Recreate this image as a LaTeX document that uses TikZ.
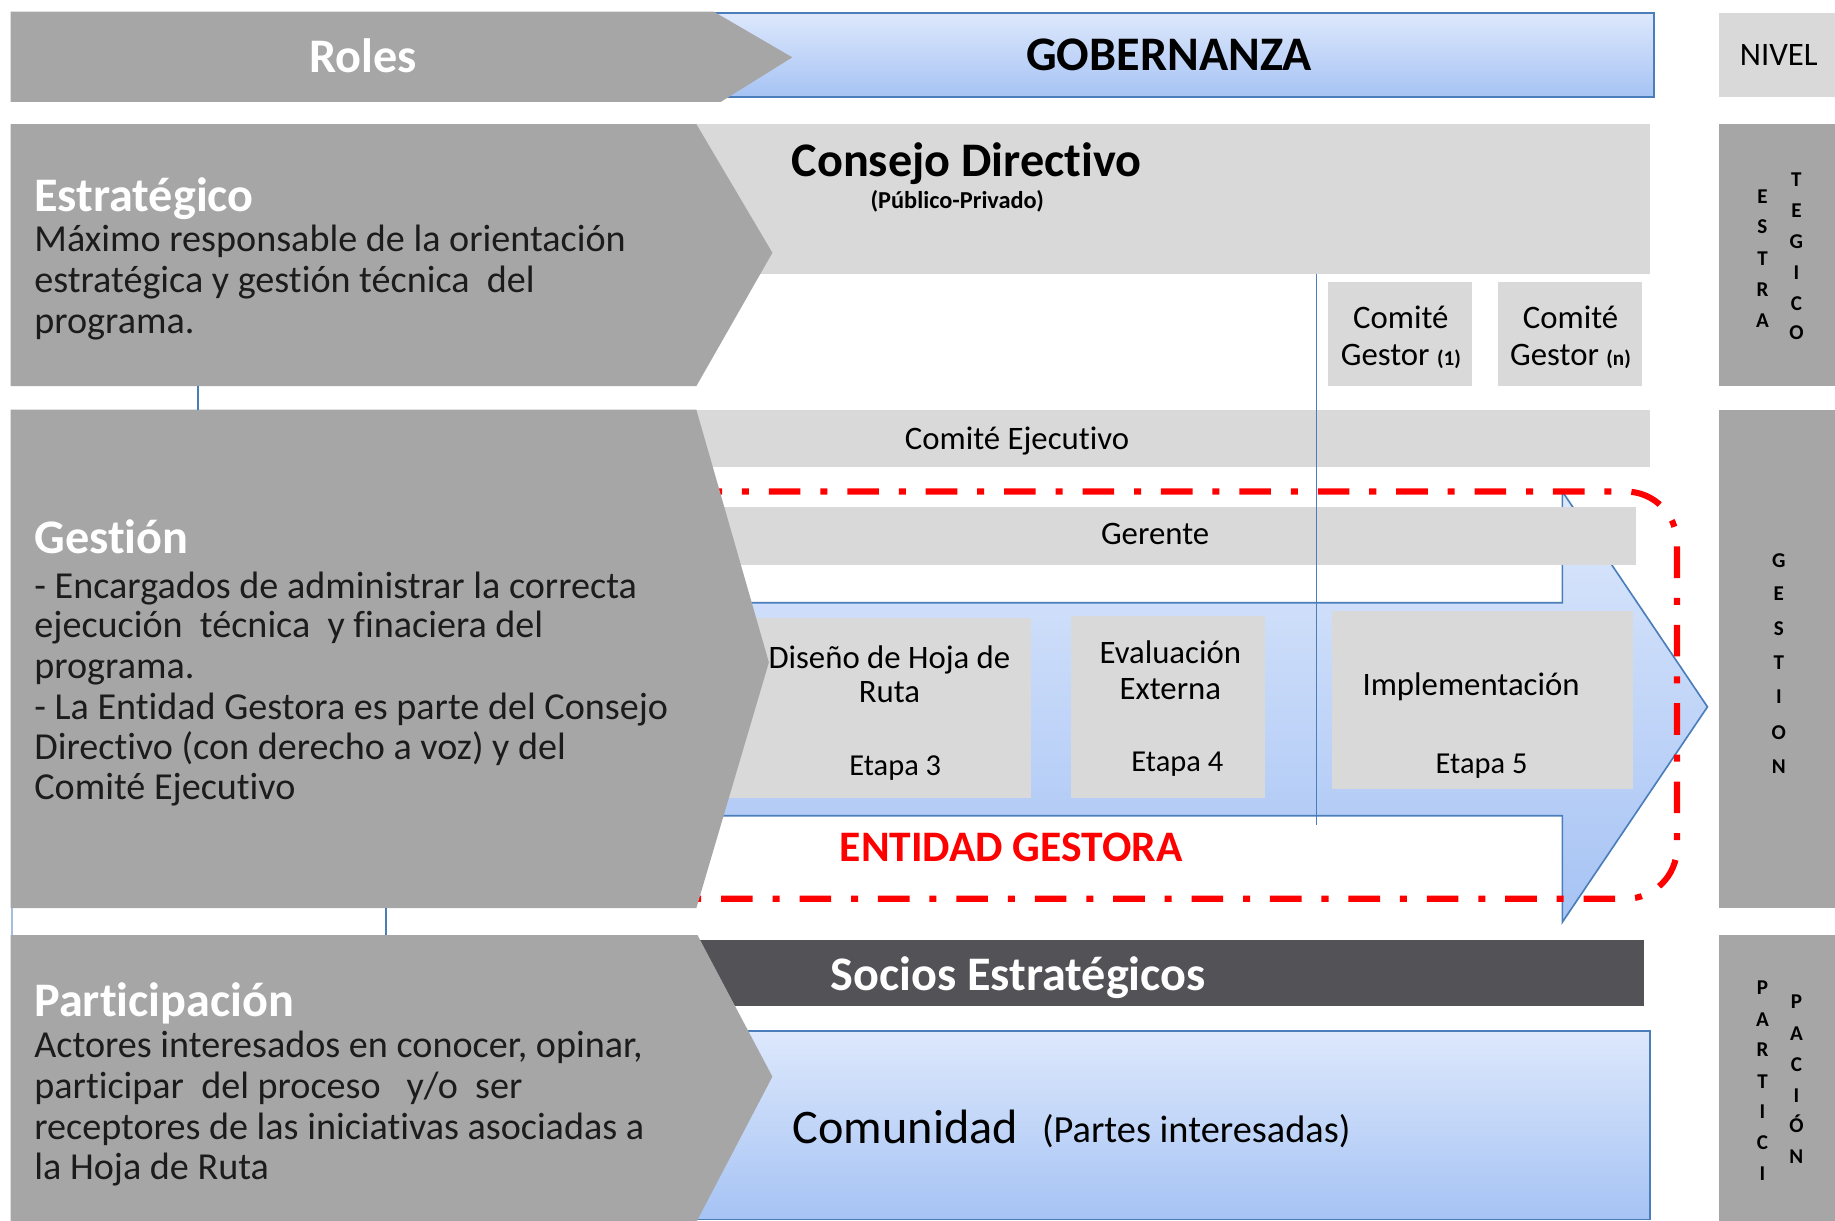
\documentclass[tikz,border=0pt]{standalone}
\usepackage{fontspec}
\setmainfont{Carlito}[Ligatures=NoCommon]
\definecolor{dgray}{HTML}{A6A6A6}
\definecolor{lgray}{HTML}{D9D9D9}
\definecolor{sgray}{HTML}{525257}
\definecolor{blA}{HTML}{DDE8FC}
\definecolor{blB}{HTML}{A6C3F4}
\definecolor{bline}{HTML}{4A7EBB}
\definecolor{txtc}{HTML}{1C1C1C}
\definecolor{redd}{HTML}{FF0000}
\newcommand\FBig{\fontsize{20.6}{24}\selectfont\bfseries}
\newcommand\FBody{\fontsize{16.3}{17.5}\selectfont}
\newcommand\FBox{\fontsize{14}{16}\selectfont}
\newcommand\FEtapa{\fontsize{13}{15}\selectfont}
\newcommand\FVert{\fontsize{9}{10}\selectfont\bfseries}
\newcommand\FTiny{\fontsize{9}{10}\selectfont\bfseries}
\tikzset{
  ctxt/.style={inner sep=0pt, anchor=base},
  ltxt/.style={inner sep=0pt, anchor=base west},
  bodytxt/.style={ltxt, text=txtc, font=\FBody},
  boxtxt/.style={ctxt, text=black, font=\FBox},
  etxt/.style={ctxt, text=black, font=\FEtapa},
  vtxt/.style={ctxt, text=black, font=\FVert},
  bluebox/.style={draw=bline, line width=0.8pt, top color=blA, bottom color=blB},
  conn/.style={draw=bline, line width=0.7pt},
  redframe/.style={draw=redd, line width=2.6pt, dash pattern=on 13.5pt off 8.5pt on 3pt off 8.5pt, rounded corners=22pt}
}
\begin{document}
\begin{tikzpicture}[x=0.5pt,y=-0.5pt]
\useasboundingbox (0,0) rectangle (1568,1043);
\fill[white] (0,0) rectangle (1568,1043);

% ---------- bands behind the arrows ----------
\fill[lgray] (590,106) rectangle (1410,234);
\fill[lgray] (1135,241) rectangle (1258,330);
\fill[lgray] (1280,241) rectangle (1403,330);
\fill[lgray] (590,350) rectangle (1410,399);

% big blue process arrow
\path[bluebox, line width=0.7pt] (600,515) -- (1335,515) -- (1335,420) -- (1459,604) -- (1335,788) -- (1335,697) -- (600,697) -- cycle;
\fill[lgray] (600,433) rectangle (1398,483);
\fill[lgray] (615,528) rectangle (881,682);
\fill[lgray] (915,526) rectangle (1081,682);
\fill[lgray] (1138,522) rectangle (1395,674);

% red dash-dot frame
\path[redframe] (590,420) -- (1433,420) -- (1433,768) -- (590,768);

% vertical connector
\coordinate (vTop) at (1125,234);
\coordinate (vBot) at (1125,705);
\path[conn] (vTop) -- (vBot);

\fill[sgray] (590,803) rectangle (1405,860);
\path[bluebox] (590,881) rectangle (1410,1042);

\path[bluebox] (600,11) rectangle (1413,83);
\fill[lgray] (1469,11) rectangle (1575,83);
\fill[dgray] (1469,106) rectangle (1575,330);
\fill[dgray] (1469,350) rectangle (1575,776);
\fill[dgray] (1469,799) rectangle (1575,1050);

% ---------- gray role arrows ----------
\fill[dgray] (9,10) -- (610,10) -- (677,49) -- (616,87) -- (9,87) -- cycle;
\fill[dgray] (9,106) -- (595,106) -- (660,216) -- (595,330) -- (9,330) -- cycle;
\fill[dgray] (9,350) -- (595,350) -- (657,566) -- (595,776) -- (9,776) -- cycle;
\fill[dgray] (9,799) -- (596,799) -- (660,920) -- (592,1050) -- (9,1050) -- cycle;

% small connectors between rows
\coordinate (c1a) at (169,330); \coordinate (c1b) at (169,350);
\coordinate (c2a) at (330,776); \coordinate (c2b) at (330,799);
\coordinate (c3a) at (10,776);  \coordinate (c3b) at (10,799);
\path[conn] (c1a) -- (c1b);
\path[conn] (c2a) -- (c2b);
\path[conn, draw=bline!50] (c3a) -- (c3b);

% ---------- header texts ----------
\node[ctxt, white, font=\FBig] (roles) at (310,62) {Roles};
\node[ctxt, black, font=\FBig] (gob) at (999,60) {GOBERNANZA};
\node[ctxt, black, font=\FBox] (nivel) at (1520,56) {NIVEL};

% ---------- left texts ----------
\node[ltxt, white, font=\FBig] (tEst) at (29,181) {Estratégico};
\node[bodytxt] (e1) at (29,215) {Máximo responsable de la orientación};
\node[bodytxt] (e2) at (29,250) {estratégica y gestión técnica\ \ del};
\node[bodytxt] (e3) at (29,285) {programa.};

\node[ltxt, white, font=\FBig] (tGes) at (29,473) {Gestión};
\node[bodytxt] (g1) at (29,511) {- Encargados de administrar la correcta};
\node[bodytxt] (g2) at (29,545) {ejecución\ \ técnica\ \ y finaciera del};
\node[bodytxt] (g3) at (29,580) {programa.};
\node[bodytxt] (g4) at (29,615) {- La Entidad Gestora es parte del Consejo};
\node[bodytxt] (g5) at (29,649) {Directivo (con derecho a voz) y del};
\node[bodytxt] (g6) at (29,683) {Comité Ejecutivo};

\node[ltxt, white, font=\FBig] (tPar) at (29,869) {Participación};
\node[bodytxt] (p1) at (29,904) {Actores interesados en conocer, opinar,};
\node[bodytxt] (p2) at (29,939) {participar\ \ del proceso\ \ \ y/o\ \ ser};
\node[bodytxt] (p3) at (29,974) {receptores de las iniciativas asociadas a};
\node[bodytxt] (p4) at (29,1008) {la Hoja de Ruta};

% ---------- governance texts ----------
\node[ltxt, black, font=\FBig] (cd) at (676,151) {Consejo Directivo};
\node[ctxt, black, font=\fontsize{10.4}{12}\selectfont\bfseries] (pp) at (818,178) {(Público-Privado)};
\node[boxtxt] (cg1a) at (1197,281) {Comité};
\node[boxtxt] (cg1b) at (1197,312) {Gestor {\FTiny(1)}};
\node[boxtxt] (cgna) at (1342,281) {Comité};
\node[boxtxt] (cgnb) at (1342,312) {Gestor {\FTiny(n)}};
\node[boxtxt] (ce) at (869,384) {Comité Ejecutivo};
\node[boxtxt] (ger) at (987,465) {Gerente};
\node[boxtxt] (d1) at (760,571) {Diseño de Hoja de};
\node[boxtxt] (d2) at (760,600) {Ruta};
\node[etxt] (d3) at (765,663) {Etapa 3};
\node[boxtxt] (v1) at (1000,567) {Evaluación};
\node[boxtxt] (v2) at (1000,598) {Externa};
\node[etxt] (v3) at (1006,659) {Etapa 4};
\node[boxtxt] (i1) at (1257,594) {Implementación};
\node[etxt] (i3) at (1266,661) {Etapa 5};
\node[ctxt, text=redd, font=\fontsize{18.6}{21}\selectfont\bfseries] (ent) at (864,736) {ENTIDAD GESTORA};
\node[ctxt, white, font=\FBig] (soc) at (870,846) {Socios Estratégicos};
\node[ltxt, black, font=\fontsize{20.6}{24}\selectfont] (com) at (677,977) {Comunidad};
\node[ltxt, black, font=\fontsize{16.4}{18}\selectfont] (pint) at (890,976) {(Partes interesadas)};

% ---------- vertical level letters ----------
\foreach \ch/\yy [count=\i] in {E/167.5,S/193.5,T/220.5,R/247,A/273.5}
  \node[vtxt] (ea\i) at (1506,\yy+6) {\ch};
\foreach \ch/\yy [count=\i] in {T/153,E/179.5,G/206.5,I/233,C/259.5,O/284.5}
  \node[vtxt] (eb\i) at (1535,\yy+6) {\ch};
\foreach \ch/\yy [count=\i] in {G/479,E/507,S/537,T/566,I/595,O/626,N/655}
  \node[vtxt] (gs\i) at (1520,\yy+6) {\ch};
\foreach \ch/\yy [count=\i] in {P/843.5,A/871,R/897,T/924,I/950,C/976.5,I/1003}
  \node[vtxt] (pa\i) at (1506,\yy+6) {\ch};
\foreach \ch/\yy [count=\i] in {P/856,A/883,C/909.5,I/936,Ó/962,N/988.5}
  \node[vtxt] (pb\i) at (1535,\yy+6) {\ch};
\end{tikzpicture}
\end{document}
